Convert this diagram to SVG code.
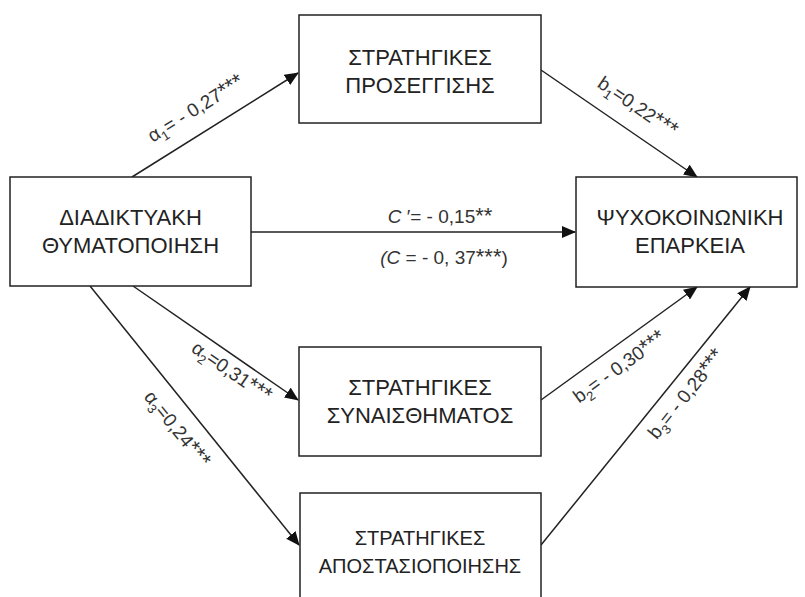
<svg xmlns="http://www.w3.org/2000/svg" width="805" height="597" viewBox="0 0 805 597">
<style>
.box{fill:#fff;stroke:#222;stroke-width:1.5}
.bt{font-family:"Liberation Sans",Arial,sans-serif;font-size:22px;fill:#222;text-anchor:middle}
.bs{font-size:20px}
.lbl{font-family:"Liberation Sans",Arial,sans-serif;font-size:19px;fill:#333;text-anchor:middle}
.sub{font-size:13px}
.st{font-size:22px}
.con{stroke:#222;stroke-width:1.5;fill:none;marker-end:url(#ah)}
</style>
<defs>
<marker id="ah" markerUnits="userSpaceOnUse" markerWidth="14" markerHeight="12" refX="13" refY="6" orient="auto">
<path d="M0,0 L14,6 L0,12 z" fill="#111"/>
</marker>
</defs>
<rect width="805" height="597" fill="#fff"/>
<g id="connectors">
<line class="con" x1="132" y1="177" x2="298" y2="73"/>
<line class="con" x1="541" y1="70" x2="697" y2="177"/>
<line class="con" x1="251" y1="232" x2="575" y2="232"/>
<line class="con" x1="133" y1="286" x2="298" y2="400"/>
<line class="con" x1="90" y1="286" x2="299" y2="545"/>
<line class="con" x1="541" y1="400" x2="697" y2="287"/>
<line class="con" x1="541" y1="545" x2="750" y2="287"/>
</g>
<g id="labels">
<text class="lbl" transform="translate(199,114) rotate(-32)">α<tspan class="sub" dy="5">1</tspan><tspan dy="-5">= - 0,27</tspan><tspan class="st">***</tspan></text>
<text class="lbl" transform="translate(634,112) rotate(34.4)">b<tspan class="sub" dy="5">1</tspan><tspan dy="-5">=0,22</tspan><tspan class="st">***</tspan></text>
<text class="lbl" x="440" y="223"><tspan font-style="italic">C</tspan> ′= - 0,15<tspan class="st">**</tspan></text>
<text class="lbl" x="444" y="264"><tspan font-style="italic">(C</tspan> = - 0, 37<tspan class="st">***</tspan>)</text>
<text class="lbl" transform="translate(228,377) rotate(34.6)">α<tspan class="sub" dy="5">2</tspan><tspan dy="-5">=0,31</tspan><tspan class="st">***</tspan></text>
<text class="lbl" transform="translate(172,433) rotate(51.2)">α<tspan class="sub" dy="5">3</tspan><tspan dy="-5">=0,24</tspan><tspan class="st">***</tspan></text>
<text class="lbl" transform="translate(623,372) rotate(-35.9)">b<tspan class="sub" dy="5">2</tspan><tspan dy="-5">= - 0,30</tspan><tspan class="st">***</tspan></text>
<text class="lbl" transform="translate(691,398) rotate(-51)">b<tspan class="sub" dy="5">3</tspan><tspan dy="-5">= - 0,28</tspan><tspan class="st">***</tspan></text>
</g>
<g id="node-left">
<rect class="box" x="10" y="177" width="241" height="109"/>
<text class="bt" x="130.5" y="225">ΔΙΑΔΙΚΤΥΑΚΗ</text>
<text class="bt" x="130.5" y="253">ΘΥΜΑΤΟΠΟΙΗΣΗ</text>
</g>
<g id="node-top">
<rect class="box" x="299" y="15" width="242" height="108"/>
<text class="bt" x="420" y="65">ΣΤΡΑΤΗΓΙΚΕΣ</text>
<text class="bt" x="420" y="93">ΠΡΟΣΕΓΓΙΣΗΣ</text>
</g>
<g id="node-right">
<rect class="box" x="576" y="177" width="221" height="110"/>
<text class="bt" x="690" y="225">ΨΥΧΟΚΟΙΝΩΝΙΚΗ</text>
<text class="bt" x="690" y="253">ΕΠΑΡΚΕΙΑ</text>
</g>
<g id="node-middle">
<rect class="box" x="299" y="347" width="242" height="109"/>
<text class="bt" x="420" y="395">ΣΤΡΑΤΗΓΙΚΕΣ</text>
<text class="bt" x="420" y="423">ΣΥΝΑΙΣΘΗΜΑΤΟΣ</text>
</g>
<g id="node-bottom">
<rect class="box" x="300" y="493" width="241" height="120"/>
<text class="bt bs" x="420" y="545">ΣΤΡΑΤΗΓΙΚΕΣ</text>
<text class="bt bs" x="420" y="573">ΑΠΟΣΤΑΣΙΟΠΟΙΗΣΗΣ</text>
</g>
</svg>
